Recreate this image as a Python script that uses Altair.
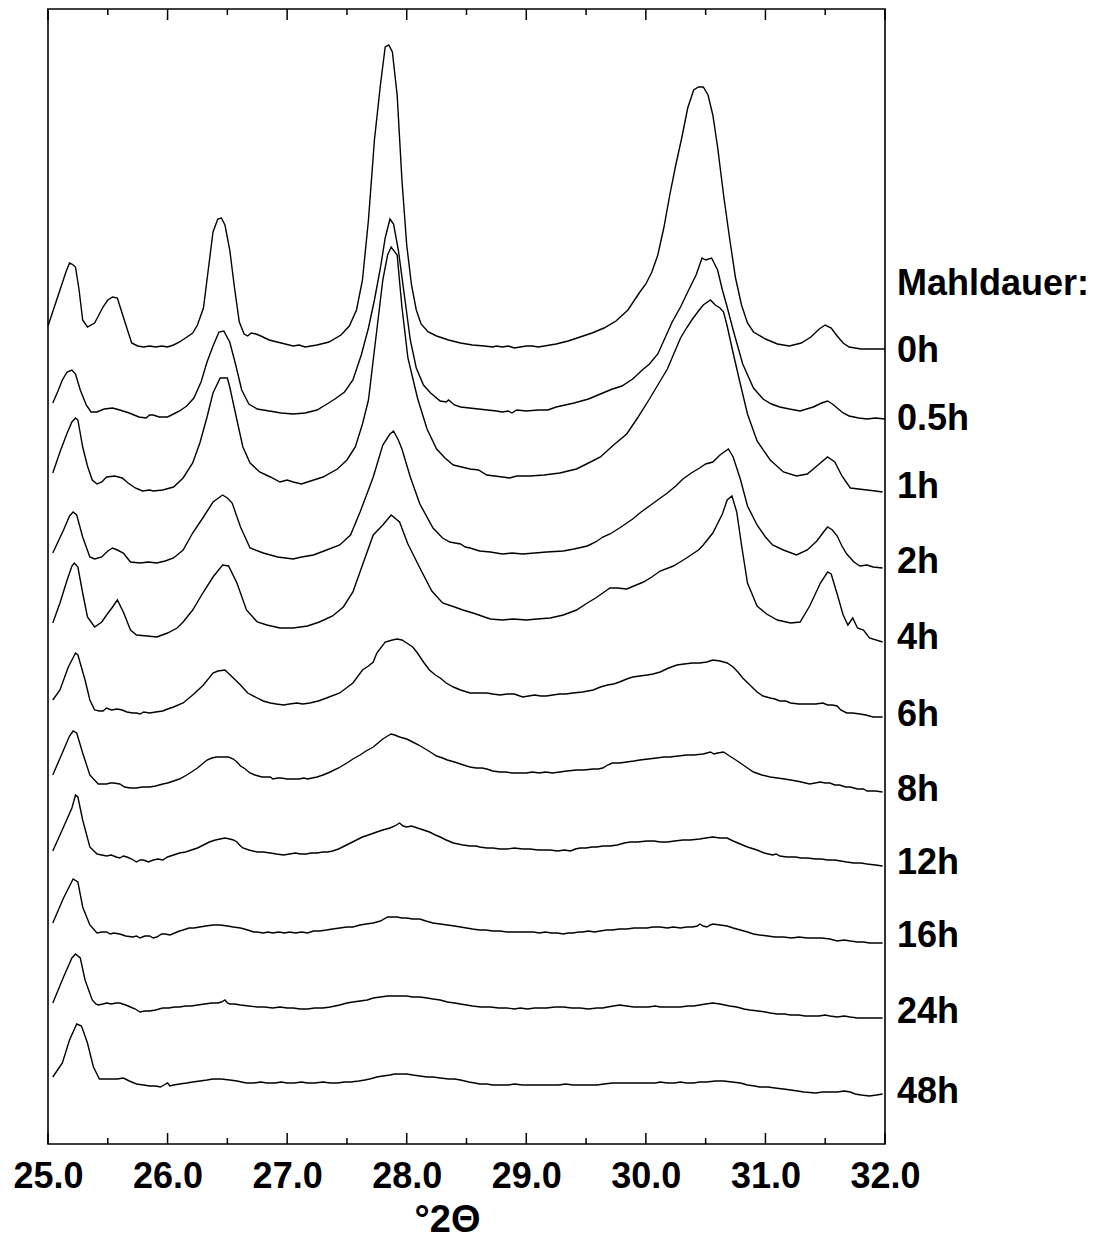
import altair as alt
import pandas as pd

# ---- data (2-theta in degrees, intensity above each trace's baseline) ----
series_names = ["0h", "0.5h", "1h", "2h", "4h", "6h", "8h", "12h", "16h", "24h", "48h"]
offsets = [794, 724, 649, 574, 504, 426, 351, 277, 200, 125, 49]
label_nudge = [-1, 1, 8, 8, 2, 3, 3, 4, 8, 7, 3]

pts_0h = [(25.00,24),(25.05,42),(25.10,60),(25.15,78),(25.18,87),(25.20,86),(25.23,83),(25.26,60),(25.29,30),(25.33,23),(25.39,27),(25.46,43),(25.50,50),(25.54,53),(25.58,52),(25.63,33),(25.67,18),(25.70,7),(25.75,4),(25.80,3),(25.85,4),(25.90,3),(25.95,4),(26.00,3),(26.05,5),(26.10,8),(26.15,12),(26.21,17),(26.25,25),(26.30,42),(26.34,80),(26.38,118),(26.42,131),(26.45,132),(26.48,125),(26.52,100),(26.56,62),(26.60,28),(26.64,16),(26.67,14),(26.70,17),(26.74,16),(26.78,14),(26.85,10),(26.95,7),(27.05,4),(27.10,5),(27.15,3),(27.25,5),(27.35,8),(27.45,15),(27.52,24),(27.58,40),(27.63,70),(27.68,130),(27.73,210),(27.78,265),(27.82,303),(27.85,305),(27.88,298),(27.92,255),(27.96,170),(28.00,105),(28.04,65),(28.08,40),(28.12,26),(28.18,18),(28.25,14),(28.35,10),(28.45,7),(28.55,5),(28.65,4),(28.72,3),(28.75,4),(28.80,3),(28.85,4),(28.90,2),(28.95,3),(29.00,4),(29.05,4),(29.10,3),(29.15,4),(29.25,6),(29.35,9),(29.45,13),(29.55,17),(29.65,22),(29.75,29),(29.85,40),(29.95,58),(30.00,66),(30.05,78),(30.10,95),(30.15,122),(30.20,155),(30.25,185),(30.30,212),(30.35,242),(30.40,260),(30.44,263),(30.48,263),(30.52,255),(30.56,235),(30.60,203),(30.65,155),(30.70,112),(30.75,72),(30.80,45),(30.85,27),(30.90,18),(31.00,11),(31.10,6),(31.20,4),(31.30,7),(31.38,13),(31.45,21),(31.50,25),(31.55,22),(31.60,14),(31.65,7),(31.70,3),(31.80,1),(31.90,1),(32.00,1)]

pts_05h = [(25.04,17),(25.08,28),(25.12,40),(25.16,48),(25.20,50),(25.23,46),(25.27,30),(25.32,15),(25.36,8),(25.41,8),(25.47,11),(25.54,12),(25.60,10),(25.68,7),(25.76,3),(25.82,2),(25.85,5),(25.88,5),(25.93,3),(26.00,3),(26.05,6),(26.10,9),(26.16,14),(26.22,22),(26.28,38),(26.33,58),(26.38,74),(26.43,88),(26.47,89),(26.52,78),(26.57,55),(26.62,30),(26.68,16),(26.75,11),(26.85,9),(26.95,7),(27.05,6),(27.15,7),(27.25,10),(27.32,15),(27.40,21),(27.48,28),(27.55,40),(27.62,65),(27.68,92),(27.73,120),(27.78,152),(27.82,182),(27.86,201),(27.89,196),(27.93,170),(27.98,125),(28.03,80),(28.08,52),(28.14,35),(28.20,27),(28.28,19),(28.33,18),(28.35,20),(28.40,15),(28.45,13),(28.60,11),(28.75,9),(28.80,8),(28.85,9),(28.88,7),(28.92,10),(29.00,9),(29.10,10),(29.18,10),(29.25,13),(29.40,17),(29.52,21),(29.62,26),(29.72,31),(29.80,34),(29.89,41),(29.97,50),(30.03,56),(30.10,66),(30.16,82),(30.22,98),(30.29,113),(30.35,128),(30.42,145),(30.47,162),(30.50,160),(30.55,162),(30.60,150),(30.64,130),(30.68,113),(30.73,90),(30.81,56),(30.90,32),(30.98,21),(31.05,16),(31.12,13),(31.20,11),(31.29,9),(31.40,13),(31.47,17),(31.52,19),(31.56,16),(31.60,12),(31.65,7),(31.70,4),(31.78,2),(31.85,1),(31.92,2),(32.00,1)]

pts_1h = [(25.04,22),(25.10,43),(25.16,62),(25.20,73),(25.23,77),(25.25,75),(25.29,48),(25.33,29),(25.37,15),(25.41,11),(25.45,13),(25.49,18),(25.56,19),(25.62,17),(25.67,12),(25.73,7),(25.79,4),(25.85,5),(25.88,4),(25.96,5),(26.05,8),(26.13,17),(26.21,32),(26.27,52),(26.33,78),(26.38,102),(26.44,117),(26.50,117),(26.52,108),(26.58,75),(26.63,48),(26.69,32),(26.77,23),(26.86,18),(26.94,13),(27.00,15),(27.05,13),(27.12,11),(27.17,13),(27.30,18),(27.42,26),(27.50,35),(27.57,48),(27.63,71),(27.68,95),(27.72,135),(27.76,175),(27.80,215),(27.84,240),(27.87,248),(27.92,240),(27.96,188),(28.01,137),(28.09,97),(28.17,66),(28.25,46),(28.32,37),(28.39,30),(28.53,26),(28.60,25),(28.67,20),(28.80,18),(28.86,17),(28.92,19),(29.03,19),(29.15,20),(29.28,22),(29.42,26),(29.52,32),(29.62,38),(29.73,50),(29.84,61),(29.93,77),(30.03,96),(30.10,110),(30.18,126),(30.24,143),(30.29,157),(30.34,167),(30.39,176),(30.44,184),(30.48,190),(30.54,195),(30.58,190),(30.62,187),(30.65,183),(30.68,169),(30.73,142),(30.79,111),(30.85,81),(30.93,54),(31.04,35),(31.15,23),(31.26,19),(31.35,21),(31.43,29),(31.52,38),(31.58,33),(31.64,19),(31.71,7),(31.78,6),(31.85,5),(31.92,4),(31.98,3)]

pts_2h = [(25.04,17),(25.13,40),(25.18,54),(25.21,58),(25.24,55),(25.29,33),(25.35,13),(25.39,11),(25.45,13),(25.50,19),(25.54,22),(25.58,20),(25.63,17),(25.69,8),(25.77,7),(25.84,8),(25.91,7),(25.98,9),(26.05,12),(26.13,20),(26.21,37),(26.30,53),(26.38,68),(26.46,75),(26.50,72),(26.54,67),(26.61,43),(26.69,22),(26.80,17),(26.92,13),(27.05,11),(27.12,13),(27.22,15),(27.33,20),(27.44,25),(27.53,35),(27.61,58),(27.67,77),(27.72,93),(27.80,125),(27.86,136),(27.89,139),(27.93,130),(27.96,121),(28.03,93),(28.11,66),(28.22,42),(28.30,32),(28.36,28),(28.45,26),(28.49,23),(28.53,22),(28.61,19),(28.70,18),(28.80,16),(28.88,17),(28.97,16),(29.07,17),(29.17,18),(29.31,19),(29.40,21),(29.51,24),(29.58,28),(29.64,33),(29.70,36),(29.78,42),(29.89,51),(29.96,58),(30.03,64),(30.11,71),(30.18,77),(30.25,84),(30.31,91),(30.38,97),(30.45,102),(30.50,106),(30.56,108),(30.62,115),(30.69,121),(30.73,113),(30.79,91),(30.85,64),(30.93,45),(31.00,33),(31.06,25),(31.15,20),(31.26,15),(31.35,20),(31.43,29),(31.48,37),(31.52,43),(31.56,40),(31.60,34),(31.64,24),(31.68,16),(31.74,8),(31.79,4),(31.85,5),(31.90,3),(31.98,2)]

pts_4h = [(25.04,17),(25.10,37),(25.16,60),(25.20,74),(25.22,77),(25.25,73),(25.29,47),(25.33,23),(25.39,13),(25.45,18),(25.49,25),(25.54,33),(25.58,40),(25.63,28),(25.69,10),(25.74,5),(25.83,4),(25.91,3),(26.00,7),(26.08,12),(26.13,18),(26.21,30),(26.30,48),(26.38,63),(26.46,75),(26.51,74),(26.58,57),(26.66,30),(26.75,18),(26.83,15),(26.94,12),(27.05,12),(27.17,14),(27.27,18),(27.38,24),(27.47,33),(27.55,48),(27.63,75),(27.72,105),(27.80,115),(27.87,125),(27.94,118),(28.01,96),(28.11,72),(28.21,49),(28.30,37),(28.40,33),(28.47,30),(28.58,26),(28.65,23),(28.70,21),(28.80,20),(28.89,21),(29.00,20),(29.09,21),(29.20,22),(29.31,25),(29.42,30),(29.51,37),(29.58,42),(29.64,47),(29.70,52),(29.76,52),(29.84,51),(29.92,55),(29.98,58),(30.05,63),(30.12,69),(30.23,74),(30.30,79),(30.34,82),(30.39,86),(30.44,90),(30.48,95),(30.56,107),(30.64,126),(30.68,140),(30.72,144),(30.76,128),(30.80,95),(30.85,57),(30.93,34),(31.01,26),(31.10,20),(31.21,17),(31.29,18),(31.37,34),(31.46,57),(31.52,68),(31.55,66),(31.60,46),(31.65,25),(31.69,15),(31.73,22),(31.77,12),(31.82,10),(31.87,2),(31.98,-2)]

pts_6h = [(25.04,18),(25.10,28),(25.17,51),(25.23,65),(25.25,63),(25.31,38),(25.35,18),(25.39,8),(25.43,7),(25.46,7),(25.49,10),(25.53,8),(25.58,9),(25.62,8),(25.66,6),(25.71,5),(25.74,5),(25.77,4),(25.80,6),(25.85,5),(25.90,6),(25.96,7),(26.00,9),(26.05,11),(26.13,15),(26.21,23),(26.30,33),(26.38,45),(26.42,47),(26.48,48),(26.55,40),(26.61,33),(26.67,25),(26.75,20),(26.80,17),(26.86,15),(26.91,14),(26.97,13),(27.02,14),(27.08,15),(27.13,14),(27.19,15),(27.26,17),(27.33,20),(27.44,25),(27.55,35),(27.63,48),(27.68,52),(27.72,56),(27.75,65),(27.82,76),(27.88,78),(27.92,79),(27.96,78),(28.00,75),(28.05,71),(28.09,65),(28.14,56),(28.19,48),(28.24,43),(28.28,40),(28.33,35),(28.39,31),(28.45,28),(28.53,25),(28.60,25),(28.67,25),(28.72,24),(28.78,23),(28.84,24),(28.90,24),(28.97,21),(29.02,22),(29.07,23),(29.12,22),(29.17,22),(29.22,23),(29.28,24),(29.33,24),(29.39,25),(29.47,26),(29.56,28),(29.62,31),(29.68,33),(29.73,34),(29.78,36),(29.84,39),(29.89,41),(29.95,42),(30.01,43),(30.06,44),(30.12,46),(30.19,50),(30.26,53),(30.32,54),(30.39,55),(30.45,55),(30.51,56),(30.56,58),(30.62,57),(30.68,55),(30.73,51),(30.77,46),(30.81,40),(30.87,33),(30.93,26),(30.98,22),(31.04,20),(31.08,19),(31.12,17),(31.17,17),(31.21,15),(31.28,14),(31.35,14),(31.42,14),(31.48,15),(31.52,13),(31.56,13),(31.60,12),(31.63,8),(31.68,5),(31.73,5),(31.79,4),(31.84,3),(31.90,1),(31.98,1)]

pts_8h = [(25.04,18),(25.13,43),(25.18,57),(25.21,62),(25.24,60),(25.29,40),(25.35,18),(25.42,9),(25.46,9),(25.49,9),(25.52,10),(25.55,10),(25.60,9),(25.64,6),(25.69,5),(25.74,5),(25.79,6),(25.85,6),(25.90,7),(25.96,9),(26.00,10),(26.05,12),(26.10,14),(26.16,18),(26.20,21),(26.25,25),(26.29,29),(26.33,33),(26.37,35),(26.41,36),(26.46,36),(26.51,36),(26.55,34),(26.58,31),(26.61,27),(26.65,24),(26.69,20),(26.73,18),(26.79,16),(26.83,16),(26.86,16),(26.88,14),(26.92,15),(26.95,15),(27.00,14),(27.05,14),(27.10,14),(27.14,15),(27.17,14),(27.21,15),(27.25,16),(27.30,18),(27.36,21),(27.43,25),(27.50,30),(27.55,34),(27.61,38),(27.66,42),(27.72,46),(27.76,50),(27.80,54),(27.84,57),(27.87,59),(27.90,58),(27.94,56),(28.00,54),(28.05,51),(28.10,48),(28.17,43),(28.21,40),(28.25,37),(28.30,35),(28.34,33),(28.40,31),(28.45,29),(28.50,27),(28.53,26),(28.58,25),(28.63,25),(28.67,24),(28.72,22),(28.78,21),(28.83,21),(28.88,20),(28.95,20),(29.00,20),(29.05,21),(29.11,20),(29.16,21),(29.22,20),(29.28,21),(29.34,22),(29.42,23),(29.48,23),(29.56,24),(29.60,24),(29.64,25),(29.68,28),(29.72,30),(29.78,30),(29.84,31),(29.90,32),(29.95,33),(30.02,34),(30.09,35),(30.15,36),(30.20,36),(30.27,37),(30.34,38),(30.40,38),(30.48,39),(30.54,41),(30.57,39),(30.60,40),(30.65,41),(30.70,37),(30.74,34),(30.79,30),(30.85,25),(30.90,21),(30.97,18),(31.04,16),(31.10,15),(31.16,14),(31.21,13),(31.26,12),(31.30,11),(31.37,9),(31.46,11),(31.50,10),(31.54,10),(31.58,8),(31.62,8),(31.67,6),(31.71,6),(31.77,4),(31.82,4),(31.85,2),(31.92,2),(31.98,1)]

pts_12h = [(25.04,16),(25.13,40),(25.20,59),(25.23,72),(25.25,70),(25.29,47),(25.35,20),(25.41,13),(25.45,12),(25.49,11),(25.53,12),(25.57,10),(25.60,9),(25.63,11),(25.66,10),(25.70,8),(25.74,5),(25.77,7),(25.80,7),(25.84,5),(25.88,7),(25.92,8),(25.96,7),(26.00,10),(26.05,12),(26.10,14),(26.15,15),(26.20,17),(26.25,19),(26.30,22),(26.35,25),(26.40,27),(26.44,28),(26.48,29),(26.52,28),(26.55,27),(26.58,25),(26.61,21),(26.63,19),(26.68,17),(26.75,15),(26.80,15),(26.86,14),(26.91,13),(26.97,12),(27.02,13),(27.07,14),(27.11,13),(27.16,13),(27.20,14),(27.25,14),(27.30,15),(27.34,15),(27.38,16),(27.43,18),(27.48,21),(27.53,24),(27.58,27),(27.63,30),(27.68,32),(27.75,35),(27.80,37),(27.86,39),(27.90,41),(27.94,44),(27.97,41),(28.00,40),(28.04,41),(28.09,39),(28.14,37),(28.19,35),(28.24,32),(28.28,30),(28.33,27),(28.39,24),(28.43,23),(28.47,22),(28.53,21),(28.58,21),(28.61,20),(28.67,19),(28.72,19),(28.78,18),(28.84,18),(28.90,19),(28.97,18),(29.03,18),(29.10,17),(29.15,17),(29.20,17),(29.26,16),(29.32,17),(29.37,16),(29.41,18),(29.45,19),(29.50,19),(29.55,20),(29.59,20),(29.64,21),(29.70,21),(29.76,22),(29.82,24),(29.87,25),(29.93,25),(30.01,26),(30.07,26),(30.12,25),(30.18,25),(30.24,26),(30.31,27),(30.37,27),(30.45,28),(30.50,29),(30.56,30),(30.62,29),(30.68,29),(30.73,26),(30.79,23),(30.85,20),(30.93,17),(30.99,14),(31.06,12),(31.09,13),(31.12,11),(31.18,10),(31.25,10),(31.30,9),(31.35,9),(31.42,8),(31.47,8),(31.52,7),(31.58,7),(31.63,6),(31.68,5),(31.74,4),(31.80,4),(31.85,3),(31.92,2),(31.98,1)]

pts_16h = [(25.04,21),(25.13,46),(25.21,65),(25.25,62),(25.29,37),(25.35,19),(25.41,11),(25.45,12),(25.49,12),(25.52,10),(25.55,11),(25.60,10),(25.65,8),(25.71,7),(25.74,8),(25.77,6),(25.81,8),(25.85,8),(25.88,6),(25.91,7),(25.95,10),(25.98,10),(26.02,9),(26.06,11),(26.10,13),(26.13,14),(26.18,16),(26.22,16),(26.27,17),(26.32,18),(26.38,19),(26.44,19),(26.50,18),(26.55,17),(26.61,16),(26.67,14),(26.72,12),(26.75,12),(26.80,11),(26.84,12),(26.88,11),(26.93,12),(26.98,11),(27.02,12),(27.07,11),(27.12,12),(27.17,11),(27.22,13),(27.27,13),(27.33,14),(27.38,15),(27.44,16),(27.50,17),(27.55,17),(27.61,19),(27.66,20),(27.72,21),(27.78,23),(27.84,27),(27.88,27),(27.92,27),(27.96,26),(28.00,26),(28.05,25),(28.11,25),(28.16,23),(28.22,21),(28.28,20),(28.34,19),(28.40,18),(28.45,17),(28.50,16),(28.55,15),(28.61,14),(28.66,14),(28.72,13),(28.78,13),(28.84,12),(28.89,12),(28.95,12),(29.00,12),(29.06,12),(29.11,11),(29.16,12),(29.21,11),(29.26,11),(29.31,10),(29.35,11),(29.39,11),(29.44,12),(29.47,12),(29.52,13),(29.57,12),(29.62,13),(29.67,14),(29.72,14),(29.78,15),(29.84,15),(29.90,16),(29.95,16),(30.01,16),(30.06,17),(30.12,17),(30.18,16),(30.23,17),(30.29,16),(30.34,17),(30.39,17),(30.43,18),(30.45,20),(30.48,18),(30.51,17),(30.54,19),(30.56,20),(30.62,19),(30.68,18),(30.73,16),(30.79,14),(30.85,12),(30.90,10),(30.95,9),(31.02,8),(31.08,7),(31.15,7),(31.22,6),(31.28,7),(31.35,6),(31.40,6),(31.47,6),(31.54,5),(31.60,3),(31.66,4),(31.71,3),(31.77,2),(31.82,2),(31.87,1),(31.93,1),(31.98,1)]

pts_24h = [(25.04,16),(25.13,42),(25.20,61),(25.23,65),(25.27,61),(25.31,39),(25.37,19),(25.40,15),(25.42,14),(25.46,15),(25.49,16),(25.53,15),(25.57,16),(25.60,16),(25.65,14),(25.69,12),(25.73,10),(25.77,7),(25.81,8),(25.85,8),(25.90,9),(25.96,11),(26.01,11),(26.06,12),(26.10,12),(26.15,13),(26.20,13),(26.25,14),(26.31,15),(26.37,16),(26.42,16),(26.45,17),(26.48,19),(26.50,16),(26.52,15),(26.56,15),(26.61,14),(26.68,13),(26.75,12),(26.81,12),(26.88,11),(26.94,12),(27.00,11),(27.05,11),(27.11,10),(27.17,10),(27.23,11),(27.30,11),(27.36,12),(27.44,14),(27.50,16),(27.55,17),(27.61,18),(27.67,19),(27.72,21),(27.78,22),(27.84,23),(27.89,23),(27.94,23),(28.00,23),(28.05,22),(28.11,22),(28.17,21),(28.22,20),(28.28,19),(28.34,17),(28.40,16),(28.45,15),(28.50,14),(28.55,13),(28.62,12),(28.70,12),(28.77,11),(28.84,11),(28.90,10),(28.95,11),(29.01,10),(29.07,11),(29.12,11),(29.17,11),(29.24,12),(29.31,12),(29.38,11),(29.45,11),(29.52,10),(29.59,11),(29.64,11),(29.68,12),(29.73,13),(29.78,14),(29.84,13),(29.90,12),(29.95,12),(30.02,12),(30.08,13),(30.12,12),(30.18,12),(30.24,12),(30.29,12),(30.35,13),(30.40,13),(30.45,14),(30.50,15),(30.56,16),(30.62,15),(30.66,14),(30.70,13),(30.76,12),(30.82,10),(30.87,9),(30.94,8),(31.00,7),(31.04,6),(31.10,5),(31.16,5),(31.21,4),(31.28,4),(31.33,3),(31.37,3),(31.45,3),(31.50,4),(31.54,3),(31.60,2),(31.66,3),(31.71,2),(31.77,1),(31.82,1),(31.85,1),(31.92,1),(31.98,1)]

pts_48h = [(25.04,18),(25.12,32),(25.18,55),(25.24,71),(25.28,69),(25.33,52),(25.38,28),(25.43,16),(25.48,16),(25.52,16),(25.58,16),(25.63,17),(25.68,14),(25.74,11),(25.80,10),(25.85,9),(25.90,9),(25.94,8),(25.97,10),(26.00,12),(26.02,9),(26.05,10),(26.10,11),(26.16,12),(26.21,13),(26.27,14),(26.33,15),(26.38,16),(26.45,16),(26.52,15),(26.58,14),(26.62,13),(26.66,12),(26.72,12),(26.78,13),(26.83,12),(26.90,12),(26.95,13),(27.00,12),(27.06,12),(27.12,13),(27.17,12),(27.23,12),(27.30,13),(27.36,12),(27.42,12),(27.48,13),(27.53,13),(27.60,14),(27.65,15),(27.69,16),(27.75,18),(27.80,19),(27.86,20),(27.90,21),(27.94,21),(28.00,21),(28.05,20),(28.11,19),(28.17,18),(28.22,18),(28.28,17),(28.35,16),(28.40,16),(28.45,15),(28.52,13),(28.57,12),(28.61,11),(28.67,11),(28.72,10),(28.78,10),(28.85,10),(28.90,11),(28.97,10),(29.03,10),(29.10,10),(29.15,10),(29.20,10),(29.27,10),(29.33,11),(29.39,10),(29.45,10),(29.52,10),(29.59,10),(29.65,11),(29.72,12),(29.78,12),(29.84,12),(29.90,12),(29.95,12),(30.01,12),(30.08,12),(30.12,13),(30.18,12),(30.24,12),(30.29,13),(30.34,12),(30.40,12),(30.45,13),(30.51,13),(30.58,14),(30.65,14),(30.72,13),(30.79,12),(30.85,10),(30.91,9),(30.95,8),(31.02,8),(31.08,7),(31.15,6),(31.21,5),(31.27,4),(31.32,3),(31.42,2),(31.48,3),(31.54,3),(31.60,3),(31.66,4),(31.71,3),(31.75,1),(31.80,0),(31.87,-1),(31.93,0),(31.98,1)]

curves = [pts_0h, pts_05h, pts_1h, pts_2h, pts_4h, pts_6h, pts_8h, pts_12h, pts_16h, pts_24h, pts_48h]

major_ticks = [25.0, 26.0, 27.0, 28.0, 29.0, 30.0, 31.0, 32.0]
minor_ticks = [25.5, 26.5, 27.5, 28.5, 29.5, 30.5, 31.5]
header_text = "Mahldauer:"

# ---- tables ----
rows = []
for name, off, pts in zip(series_names, offsets, curves):
    for tt, inten in pts:
        rows.append({"series": name, "two_theta": tt, "y": off + inten})
df = pd.DataFrame(rows)

label_df = pd.DataFrame({
    "two_theta": [32.0] * (len(series_names) + 1),
    "y": [offsets[0] + 66] + [o + n for o, n in zip(offsets, label_nudge)],
    "text": [header_text] + series_names,
})
major_df = pd.DataFrame({"two_theta": major_ticks})
minor_df = pd.DataFrame({"two_theta": minor_ticks})

FONT = "Liberation Sans"
W, H = 837, 1135

x_scale = alt.Scale(domain=[25, 32], nice=False, zero=False)
y_scale = alt.Scale(domain=[0, H], nice=False, zero=False)
x_axis = alt.Axis(
    values=major_ticks, format=".1f", title="°2Θ",
    labelFont=FONT, labelFontSize=36, labelFontWeight="bold", labelColor="black",
    labelBaseline="alphabetic", labelPadding=43, labelFlush=False, labelOverlap=False,
    ticks=False, tickSize=0, domain=False, grid=False,
    titleFont=FONT, titleFontSize=38, titleFontWeight="bold", titleColor="black",
    titleX=399, titleY=87, titleAlign="center", titleBaseline="alphabetic",
)


def X():
    return alt.X("two_theta:Q", scale=x_scale, axis=x_axis)


lines = alt.Chart(df).mark_line(color="black", strokeWidth=1.4).encode(
    x=X(),
    y=alt.Y("y:Q", scale=y_scale, axis=None),
    detail="series:N",
)

labels = alt.Chart(label_df).mark_text(
    align="left", baseline="middle", dx=12, font=FONT, fontSize=36,
    fontWeight="bold", color="black",
).encode(
    x=X(),
    y=alt.Y("y:Q", scale=y_scale, axis=None),
    text="text:N",
)


def tick_layer(data, y0, y1):
    return alt.Chart(data).mark_rule(color="black", strokeWidth=1.5).encode(
        x=X(), y=alt.value(y0), y2=alt.value(y1)
    )


bottom_major = tick_layer(major_df, H, H - 11)
bottom_minor = tick_layer(minor_df, H, H - 6)
top_major = tick_layer(major_df, 0, 11)
top_minor = tick_layer(minor_df, 0, 6)

chart = alt.layer(
    lines, labels, bottom_major, bottom_minor, top_major, top_minor
).properties(
    width=W, height=H,
    background="white",
    padding={"left": 48, "top": 9, "right": 211, "bottom": 97},
    autosize=alt.AutoSizeParams(type="none"),
).configure_view(
    stroke="black", strokeWidth=1.6
)

chart.save("out.html", embed_options={"renderer": "svg", "actions": False})
